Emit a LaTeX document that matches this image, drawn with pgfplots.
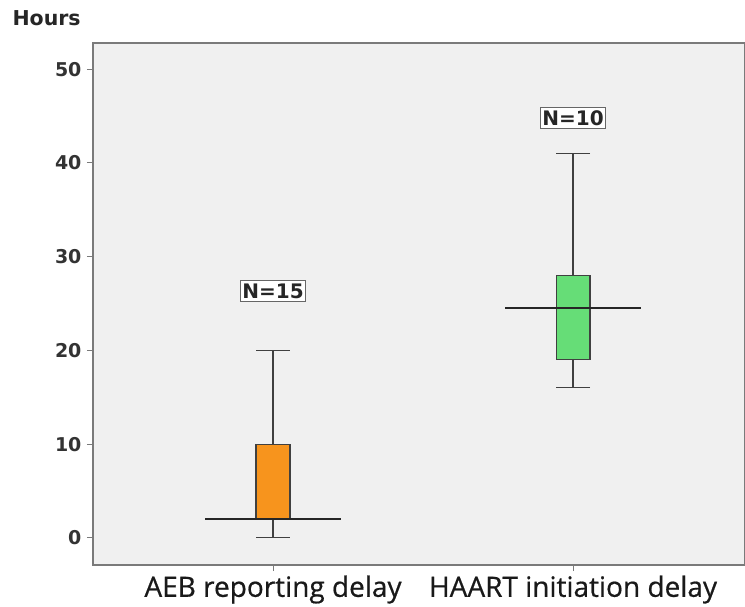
\documentclass[border=0pt]{standalone}
\usepackage{pgfplots}
\pgfplotsset{compat=1.18}
\usepgfplotslibrary{statistics}
\usepackage{fontspec}
\setmainfont{Liberation Sans}
\newfontfamily\osans[FakeBold=0.6]{Open Sans}
\newfontfamily\djb{DejaVu Sans}
\definecolor{aeborange}{HTML}{F7941D}
\definecolor{haartgreen}{HTML}{66DD77}
\definecolor{bggray}{HTML}{F0F0F0}
\definecolor{framegray}{HTML}{7A7A7A}
\begin{document}
\begin{tikzpicture}
\begin{axis}[
  at={(0,0)}, anchor=south west,
  scale only axis, width=652pt, height=522pt,
  xmin=0.4, xmax=2.573, ymin=-2.9, ymax=52.8,
  axis background/.style={fill=bggray},
  axis line style={framegray, line width=1.4pt},
  xtick={1,2}, xticklabels={AEB reporting delay, HAART initiation delay},
  ytick={0,10,20,30,40,50},
  tick align=outside, tick pos=left,
  major tick length=6pt,
  tick style={framegray, line width=1pt},
  /pgf/number format/assume math mode=true,
  yticklabel style={font=\djb\bfseries\fontsize{19}{22}\selectfont, text=black!80, xshift=-2pt},
  xticklabel style={font=\osans\fontsize{28}{32}\selectfont, text=black!90, yshift=-1pt},
  boxplot/draw direction=y,
  boxplot/draw/median/.code={%
    \draw[line width=1.8pt, black!85]
      (boxplot box cs:\boxplotvalue{median},-1.5) --
      (boxplot box cs:\boxplotvalue{median},2.5);},
  boxplot/draw/lower whisker/.code={%
    \draw[line width=1.2pt, black!75]
      (boxplot box cs:\boxplotvalue{lower quartile},0.5) --
      (boxplot box cs:\boxplotvalue{lower whisker},0.5);
    \draw[line width=1.2pt, black!75]
      (boxplot box cs:\boxplotvalue{lower whisker},0) --
      (boxplot box cs:\boxplotvalue{lower whisker},1);},
  boxplot/draw/upper whisker/.code={%
    \draw[line width=1.2pt, black!75]
      (boxplot box cs:\boxplotvalue{upper quartile},0.5) --
      (boxplot box cs:\boxplotvalue{upper whisker},0.5);
    \draw[line width=1.2pt, black!75]
      (boxplot box cs:\boxplotvalue{upper whisker},0) --
      (boxplot box cs:\boxplotvalue{upper whisker},1);},
]
\addplot[boxplot prepared={draw position=1, lower whisker=0, lower quartile=2,
  median=2, upper quartile=10, upper whisker=20, box extend=0.113},
  fill=aeborange, draw=black!75, line width=1.2pt] coordinates {};
\addplot[boxplot prepared={draw position=2, lower whisker=16, lower quartile=19,
  median=24.5, upper quartile=28, upper whisker=41, box extend=0.113},
  fill=haartgreen, draw=black!75, line width=1.2pt] coordinates {};
\node[draw=black!60, fill=white, inner xsep=2pt, inner ysep=3pt, line width=0.9pt,
  font=\djb\bfseries\fontsize{20}{23}\selectfont, text=black!85] at (axis cs:1,26.3) {N=15};
\node[draw=black!60, fill=white, inner xsep=2pt, inner ysep=3pt, line width=0.9pt,
  font=\djb\bfseries\fontsize{20}{23}\selectfont, text=black!85] at (axis cs:2,44.8) {N=10};
\end{axis}
\node[anchor=west, font=\djb\bfseries\fontsize{20.5}{24}\selectfont, text=black!85]
  at (-84pt,547pt) {Hours};
\pgfresetboundingbox
\path (-93pt,-41pt) rectangle (652pt,565pt);
\end{tikzpicture}
\end{document}
